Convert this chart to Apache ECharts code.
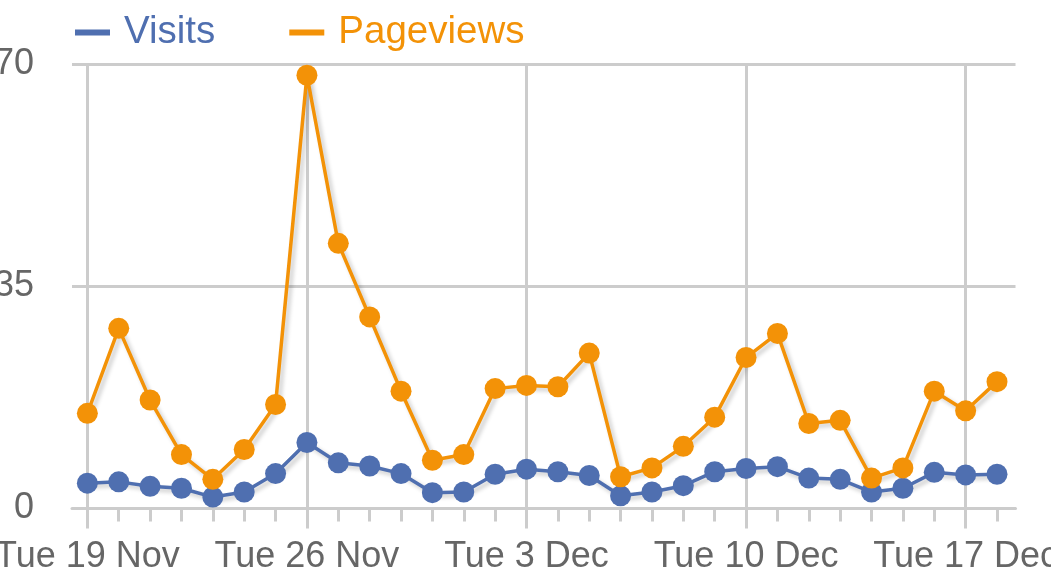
<!DOCTYPE html>
<html>
<head>
<meta charset="utf-8">
<script src="https://cdn.jsdelivr.net/npm/echarts@6/dist/echarts.min.js"></script>
<style>
  html, body { margin: 0; padding: 0; background: #fff; }
  #chart { width: 1051px; height: 572px; }
</style>
</head>
<body>
<div id="chart"></div>
<script>
// Days from Tue 19 Nov (index 0) to Wed 18 Dec (index 29)
const dayIndex = [0,1,2,3,4,5,6,7,8,9,10,11,12,13,14,15,16,17,18,19,20,21,22,23,24,25,26,27,28,29];
const visits = [4.0,4.2,3.5,3.2,1.8,2.6,5.5,10.4,7.2,6.7,5.5,2.5,2.6,5.4,6.2,5.8,5.2,2.0,2.6,3.6,5.8,6.3,6.6,4.8,4.6,2.6,3.2,5.7,5.3,5.4];
const pageviews = [15.0,28.4,17.1,8.5,4.6,9.3,16.4,68.3,41.8,30.2,18.5,7.6,8.5,18.9,19.4,19.2,24.5,5.0,6.4,9.8,14.4,23.8,27.6,13.4,13.9,4.8,6.4,18.5,15.4,20.0];
const weekTickIndex = [0,7,14,21,28];
const weekTickLabels = ['Tue 19 Nov','Tue 26 Nov','Tue 3 Dec','Tue 10 Dec','Tue 17 Dec'];

const FONT = 'Liberation Sans, Arial, sans-serif';
const GRID = '#cccccc';
const BLUE = '#4f6fb0';
const ORANGE = '#f39207';

const chart = echarts.init(document.getElementById('chart'), null, {renderer: 'canvas'});
const lineShadow = {shadowColor: 'rgba(0,0,0,0.22)', shadowBlur: 4, shadowOffsetX: 3, shadowOffsetY: 3};

chart.setOption({
  animation: false,
  grid: {left: 72, right: 35.5, top: 64.5, bottom: 63.5, containLabel: false, outerBoundsMode: 'none'},
  legend: {
    left: 70, top: 8,
    icon: 'rect', itemWidth: 35, itemHeight: 6, itemGap: 74,
    textStyle: {fontFamily: FONT, fontSize: 38.5, padding: [0,0,0,9], color: 'inherit'},
    data: [
      {name: 'Visits', textStyle: {color: BLUE}},
      {name: 'Pageviews', textStyle: {color: ORANGE}}
    ]
  },
  xAxis: [
    {
      type: 'value', position: 'bottom', min: -0.49, max: 29.59,
      axisLine: {show: true, lineStyle: {color: GRID, width: 3}},
      axisTick: {show: true, length: 20, lineStyle: {color: GRID, width: 3}, customValues: weekTickIndex},
      axisLabel: {
        show: true, customValues: weekTickIndex, margin: 31, hideOverlap: false,
        fontFamily: FONT, fontSize: 36, color: '#666666',
        formatter: function (v) { return weekTickLabels[weekTickIndex.indexOf(Math.round(v))] || ''; }
      },
      splitLine: {show: true, lineStyle: {color: GRID, width: 3}}
    },
    {
      type: 'value', position: 'bottom', min: -0.49, max: 29.59,
      axisLine: {show: false},
      axisTick: {show: true, length: 13, lineStyle: {color: GRID, width: 3}, customValues: dayIndex},
      axisLabel: {show: false},
      splitLine: {show: false}
    }
  ],
  yAxis: {
    type: 'value', min: 0, max: 70, interval: 35,
    axisLine: {show: false}, axisTick: {show: false},
    axisLabel: {fontFamily: FONT, fontSize: 36, color: '#666666', margin: 38, padding: [0,0,10,0]},
    splitLine: {show: true, lineStyle: {color: GRID, width: 3}}
  },
  series: [
    {
      name: 'Visits', type: 'line', xAxisIndex: 0,
      data: dayIndex.map((d, i) => [d, visits[i]]),
      symbol: 'circle', symbolSize: 21, showSymbol: true,
      itemStyle: {color: BLUE},
      lineStyle: Object.assign({color: BLUE, width: 3.5}, lineShadow)
    },
    {
      name: 'Pageviews', type: 'line', xAxisIndex: 0,
      data: dayIndex.map((d, i) => [d, pageviews[i]]),
      symbol: 'circle', symbolSize: 21, showSymbol: true,
      itemStyle: {color: ORANGE},
      lineStyle: Object.assign({color: ORANGE, width: 3.5}, lineShadow)
    }
  ]
});
</script>
</body>
</html>
